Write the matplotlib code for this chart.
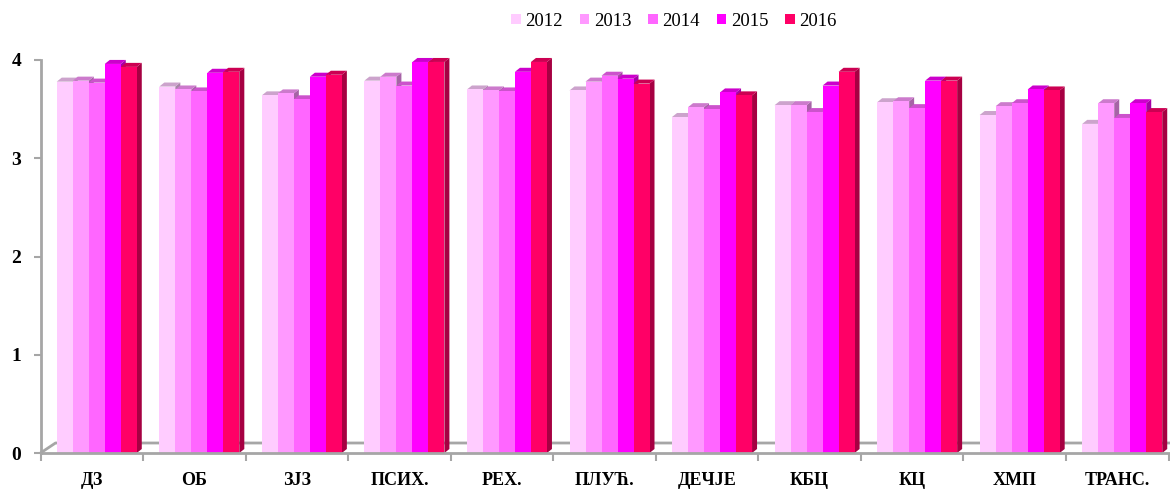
import matplotlib
matplotlib.use("Agg")
import matplotlib.pyplot as plt
from matplotlib.patches import Polygon, Patch
import numpy as np

categories = ["ДЗ", "ОБ", "ЗЈЗ", "ПСИХ.", "РЕХ.", "ПЛУЋ.", "ДЕЧЈЕ", "КБЦ", "КЦ", "ХМП", "ТРАНС."]
years = ["2012", "2013", "2014", "2015", "2016"]
v2012 = [3.78, 3.73, 3.64, 3.79, 3.70, 3.69, 3.42, 3.54, 3.57, 3.44, 3.35]
v2013 = [3.79, 3.70, 3.66, 3.83, 3.69, 3.78, 3.52, 3.54, 3.58, 3.53, 3.56]
v2014 = [3.77, 3.68, 3.60, 3.74, 3.68, 3.84, 3.50, 3.47, 3.51, 3.56, 3.41]
v2015 = [3.96, 3.87, 3.83, 3.98, 3.88, 3.81, 3.67, 3.74, 3.79, 3.70, 3.56]
v2016 = [3.93, 3.88, 3.85, 3.98, 3.98, 3.76, 3.64, 3.88, 3.79, 3.69, 3.47]
series = [v2012, v2013, v2014, v2015, v2016]
colors = ["#FFCCFF", "#FF99FF", "#FF66FF", "#FF00FF", "#FF0066"]

plt.rcParams['font.family'] = ['Liberation Serif', 'DejaVu Serif']

W, H = 1170, 492
fig = plt.figure(figsize=(W / 100, H / 100), dpi=100)
ax_l, ax_r, ax_b, ax_t = 40.5, 1168.5, 453, 60
ax = fig.add_axes([ax_l / W, (H - ax_b) / H, (ax_r - ax_l) / W, (ax_b - ax_t) / H])
ax.set_xlim(-0.5, len(categories) - 0.5)
ax.set_ylim(0, 4)

# pixel -> data conversion for the fake 3d depth
ppx = (ax_r - ax_l) / len(categories)
ppy = (ax_b - ax_t) / 4.0
ddx, ddy = 5 / ppx, 4 / ppy


def shade(c, f):
    r, g, b = matplotlib.colors.to_rgb(c)
    return (r * f, g * f, b * f)


x = np.arange(len(categories))
bw = 16 / ppx
shift = 5 / ppx

for i, vals in enumerate(series):
    xs = x - 2.5 * bw + i * bw + shift
    z = 3 + i * 3
    ax.bar(xs, vals, width=bw, align="edge", color=colors[i], linewidth=0, zorder=z + 2)
    for x0, v in zip(xs, vals):
        x1 = x0 + bw
        side = Polygon([(x1, 0), (x1 + ddx, ddy), (x1 + ddx, v + ddy), (x1, v)],
                       closed=True, facecolor=shade(colors[i], 0.65), lw=0, zorder=z, clip_on=False)
        top = Polygon([(x0, v), (x0 + ddx, v + ddy), (x1 + ddx, v + ddy), (x1, v)],
                      closed=True, facecolor=shade(colors[i], 0.8), lw=0, zorder=z + 1, clip_on=False)
        ax.add_patch(side)
        ax.add_patch(top)

# floor (back edge + diagonal)
fdx, fdy = 15 / ppx, 10 / ppy
ax.plot([-0.5, -0.5 + fdx, len(categories) - 0.5 + 2 / ppx], [0, fdy, fdy],
        color="#A6A6A6", lw=2, zorder=1, clip_on=False, solid_capstyle="butt")

for s in ["top", "right"]:
    ax.spines[s].set_visible(False)
for s in ["left", "bottom"]:
    ax.spines[s].set_color("#A6A6A6")
    ax.spines[s].set_linewidth(2)
    ax.spines[s].set_zorder(40)

ax.set_yticks([0, 1, 2, 3, 4])
ax.set_yticklabels(["0", "1", "2", "3", "4"], fontsize=14, fontweight="bold")
ax.tick_params(axis="y", direction="out", length=5, width=1.5, color="#A6A6A6", pad=9)

ax.set_xticks(x)
ax.set_xticklabels(categories, fontsize=13, fontweight="bold")
ax.set_xticks(np.arange(len(categories) + 1) - 0.5, minor=True)
ax.tick_params(axis="x", which="major", length=0, pad=14)
ax.tick_params(axis="x", which="minor", direction="out", length=6, width=1.5, color="#A6A6A6")

handles = [Patch(facecolor=c, edgecolor="none") for c in colors]
fig.legend(handles, years, loc="center", bbox_to_anchor=(674 / W, 1 - 21 / H), ncol=5,
           frameon=False, fontsize=13.5, handlelength=0.5, handleheight=0.5,
           handletextpad=0.25, columnspacing=0.9)

fig.savefig("out.png", dpi=100)
